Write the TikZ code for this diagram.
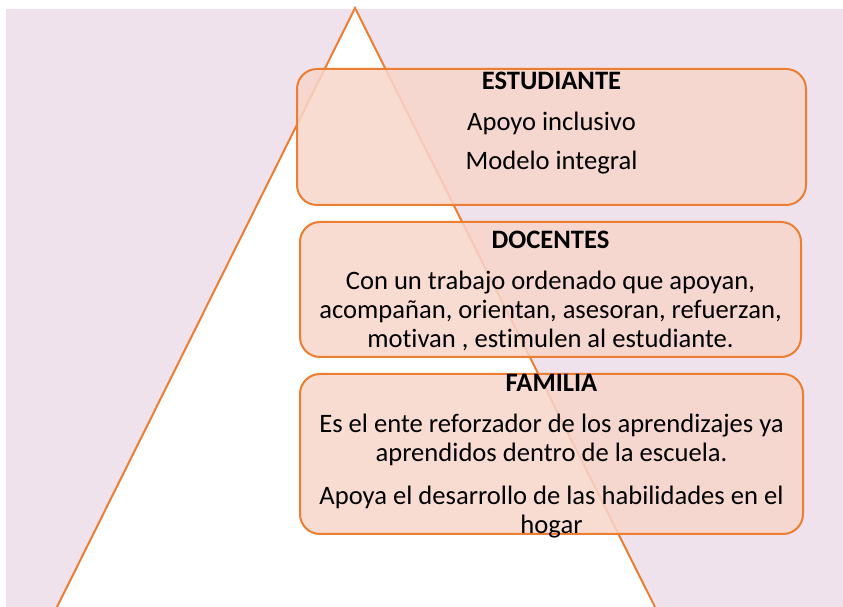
\documentclass[tikz,border=0pt]{standalone}
\usepackage{fontspec}
\setmainfont[Ligatures={NoCommon}]{Carlito}
\definecolor{bgc}{HTML}{EFE2EC}
\definecolor{orng}{HTML}{ED7D31}
\definecolor{boxf}{HTML}{F7D6CB}
\begin{document}
\begin{tikzpicture}[x=1pt,y=1pt,
  panel/.style={draw=orng,line width=2pt,fill=boxf,fill opacity=0.85,draw opacity=1,rounded corners=20pt},
  txt/.style={anchor=base,font=\fontsize{26.6}{29}\selectfont,inner sep=0pt,text=black}]
\useasboundingbox (0,0) rectangle (843,607);
\fill[white] (0,0) rectangle (843,607);
\fill[bgc] (6,0) rectangle (843,598);
\begin{scope}
\clip (0,0) rectangle (843,607);
\draw[orng,line width=2pt,fill=white,line join=miter] (355,599) coordinate (apex) -- (55,-4) -- (657,-4) -- cycle;
\end{scope}
% boxes
\draw[panel] (297,402) rectangle (806,538);
\node[coordinate] (b1) at (551.5,470) {};
\draw[panel] (300,250) rectangle (801,385);
\node[coordinate] (b2) at (550.5,317) {};
\draw[panel] (300,73) rectangle (803,233);
\node[coordinate] (b3) at (551.5,153) {};
% texts
\node[txt] (t1) at (551.5,517) {\textbf{ESTUDIANTE}};
\node[txt] (t2) at (551.5,476) {Apoyo inclusivo};
\node[txt] (t3) at (551.5,437) {Modelo integral};
\node[txt] (d1) at (550.5,358) {\textbf{DOCENTES}};
\node[txt] (d2) at (550.5,317) {Con un trabajo ordenado que apoyan,};
\node[txt] (d3) at (550.5,288) {acompañan, orientan, asesoran, refuerzan,};
\node[txt] (d4) at (550.5,259) {motivan , estimulen al estudiante.};
\node[txt] (f1) at (551.5,215) {\textbf{FAMILIA}};
\node[txt] (f2) at (551.5,174) {Es el ente reforzador de los aprendizajes ya};
\node[txt] (f3) at (551.5,145) {aprendidos dentro de la escuela.};
\node[txt] (f4) at (551.5,102) {Apoya el desarrollo de las habilidades en el};
\node[txt] (f5) at (551.5,73) {hogar};
\end{tikzpicture}
\end{document}
